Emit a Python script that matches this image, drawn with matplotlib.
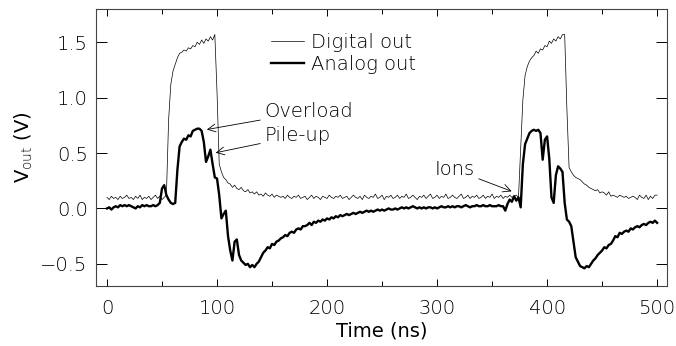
import matplotlib
matplotlib.use("Agg")
import matplotlib.pyplot as plt
import numpy as np

# time axis, 2 ns sampling
time_ns = np.arange(0, 501, 2)

# Digital output (V)
digital_out = [
  0.10, 0.08, 0.11, 0.09, 0.10, 0.08, 0.11, 0.09, 0.10, 0.12,
  0.09, 0.10, 0.08, 0.11, 0.09, 0.12, 0.08, 0.10, 0.09, 0.11,
  0.08, 0.10, 0.12, 0.09, 0.11, 0.08, 0.10, 0.12, 0.80, 1.12,
  1.24, 1.30, 1.36, 1.40, 1.41, 1.43, 1.42, 1.45, 1.44, 1.47,
  1.46, 1.50, 1.48, 1.52, 1.49, 1.53, 1.51, 1.55, 1.52, 1.57,
  1.05, 0.40, 0.33, 0.28, 0.26, 0.23, 0.22, 0.19, 0.21, 0.18,
  0.17, 0.19, 0.16, 0.15, 0.17, 0.14, 0.15, 0.13, 0.15, 0.12,
  0.13, 0.11, 0.14, 0.12, 0.11, 0.13, 0.10, 0.12, 0.11, 0.10,
  0.11, 0.09, 0.12, 0.10, 0.09, 0.11, 0.10, 0.12, 0.09, 0.10,
  0.11, 0.08, 0.10, 0.12, 0.09, 0.11, 0.10, 0.08, 0.11, 0.10,
  0.09, 0.12, 0.10, 0.09, 0.11, 0.10, 0.12, 0.09, 0.10, 0.11,
  0.08, 0.10, 0.12, 0.10, 0.09, 0.11, 0.08, 0.12, 0.10, 0.09,
  0.11, 0.10, 0.13, 0.09, 0.10, 0.12, 0.08, 0.11, 0.10, 0.12,
  0.09, 0.10, 0.12, 0.09, 0.11, 0.10, 0.13, 0.09, 0.10, 0.12,
  0.10, 0.08, 0.11, 0.10, 0.12, 0.09, 0.11, 0.13, 0.09, 0.10,
  0.12, 0.09, 0.11, 0.10, 0.13, 0.09, 0.10, 0.12, 0.10, 0.09,
  0.11, 0.13, 0.09, 0.10, 0.12, 0.09, 0.11, 0.10, 0.12, 0.09,
  0.10, 0.12, 0.09, 0.11, 0.10, 0.13, 0.09, 0.11, 0.10, 0.12,
  0.09, 0.11, 0.10, 0.12, 0.10, 0.11, 0.12, 0.10, 0.55, 0.98,
  1.20, 1.28, 1.33, 1.36, 1.38, 1.42, 1.40, 1.44, 1.43, 1.47,
  1.46, 1.51, 1.49, 1.53, 1.51, 1.55, 1.53, 1.57, 1.57, 0.90,
  0.37, 0.33, 0.30, 0.28, 0.27, 0.26, 0.24, 0.22, 0.21, 0.19,
  0.18, 0.17, 0.16, 0.17, 0.14, 0.15, 0.14, 0.12, 0.15, 0.11,
  0.12, 0.11, 0.10, 0.12, 0.11, 0.10, 0.11, 0.09, 0.10, 0.11,
  0.10, 0.08, 0.12, 0.10, 0.09, 0.12, 0.08, 0.11, 0.09, 0.12,
  0.12,
]

# Analog output (V)
analog_out = [
  0.00, 0.01, -0.01, 0.01, 0.02, 0.01, 0.03, 0.02, 0.03, 0.02,
  0.03, 0.02, 0.01, 0.00, 0.02, 0.01, 0.03, 0.02, 0.03, 0.02,
  0.02, 0.03, 0.02, 0.03, 0.05, 0.18, 0.21, 0.12, 0.08, 0.05,
  0.04, 0.05, 0.35, 0.56, 0.60, 0.63, 0.62, 0.66, 0.65, 0.70,
  0.71, 0.72, 0.72, 0.70, 0.60, 0.42, 0.47, 0.53, 0.40, 0.28,
  0.27, 0.12, -0.09, -0.05, -0.02, -0.25, -0.38, -0.47, -0.30, -0.28,
  -0.42, -0.47, -0.49, -0.51, -0.50, -0.53, -0.51, -0.53, -0.50, -0.48,
  -0.44, -0.40, -0.38, -0.35, -0.36, -0.32, -0.33, -0.30, -0.29, -0.27,
  -0.26, -0.24, -0.25, -0.22, -0.21, -0.22, -0.19, -0.18, -0.19, -0.16,
  -0.16, -0.15, -0.13, -0.15, -0.12, -0.13, -0.11, -0.12, -0.10, -0.11,
  -0.09, -0.10, -0.08, -0.09, -0.07, -0.08, -0.06, -0.07, -0.06, -0.05,
  -0.06, -0.05, -0.04, -0.05, -0.04, -0.03, -0.04, -0.03, -0.02, -0.03,
  -0.02, -0.03, -0.02, -0.01, -0.02, -0.01, -0.02, -0.01, 0.00, -0.01,
  -0.01, 0.00, -0.01, 0.00, 0.01, 0.00, 0.01, 0.00, 0.01, 0.02,
  0.01, 0.00, 0.01, 0.00, 0.01, 0.00, 0.01, 0.01, 0.00, 0.01,
  0.00, 0.01, 0.02, 0.01, 0.01, 0.02, 0.01, 0.02, 0.01, 0.02,
  0.02, 0.01, 0.02, 0.03, 0.02, 0.01, 0.02, 0.02, 0.03, 0.02,
  0.02, 0.03, 0.02, 0.02, 0.03, 0.02, 0.02, 0.02, 0.03, 0.02,
  0.02, -0.02, 0.04, 0.08, 0.06, 0.11, 0.07, 0.10, 0.01, 0.40,
  0.58, 0.63, 0.68, 0.70, 0.71, 0.70, 0.71, 0.68, 0.44, 0.62,
  0.65, 0.45, 0.10, 0.05, 0.30, 0.38, 0.36, 0.33, 0.05, -0.10,
  -0.12, -0.16, -0.30, -0.44, -0.48, -0.52, -0.53, -0.54, -0.52, -0.53,
  -0.50, -0.47, -0.45, -0.42, -0.40, -0.38, -0.35, -0.36, -0.33, -0.32,
  -0.29, -0.25, -0.26, -0.22, -0.23, -0.21, -0.20, -0.21, -0.18, -0.19,
  -0.17, -0.16, -0.17, -0.15, -0.14, -0.15, -0.13, -0.12, -0.13, -0.11,
  -0.13,
]

x_ticks = [0, 100, 200, 300, 400, 500]
y_ticks = [-0.5, 0.0, 0.5, 1.0, 1.5]

plt.rcParams['font.family'] = ['DejaVu Sans']
plt.rcParams['font.weight'] = 'light'
FS = 14

fig = plt.figure(figsize=(6.76, 3.46), dpi=100)
ax = fig.add_axes([96 / 676, 60 / 346, 571 / 676, 277 / 346])

ax.plot(time_ns, digital_out, color='black', lw=0.5, label='Digital out')
ax.plot(time_ns, analog_out, color='black', lw=1.7, label='Analog out')

ax.set_xlim(-10, 509)
ax.set_ylim(-0.7, 1.8)
ax.set_xticks(x_ticks)
ax.set_xticks(np.arange(0, 501, 50), minor=True)
ax.set_yticks(y_ticks)
ax.set_yticklabels(['−0.5', '0.0', '0.5', '1.0', '1.5'])
ax.tick_params(axis='x', which='major', direction='in', top=True, length=5, width=0.7, pad=9, labelsize=FS)
ax.tick_params(axis='x', which='minor', direction='in', top=True, length=3.5, width=0.7)
ax.tick_params(axis='y', direction='in', right=True, length=8, width=0.7, pad=6, labelsize=FS)
for s in ax.spines.values():
  s.set_linewidth(0.8)
  s.set_color('#444444')

ax.set_xlabel('Time (ns)', fontsize=FS, labelpad=3)
ax.set_ylabel(r'V$_{\rm out}$ (V)', fontsize=FS, labelpad=4)

ax.legend(loc='upper left', bbox_to_anchor=(0.29, 0.95), frameon=False, fontsize=FS,
          handlelength=1.7, handletextpad=0.35, labelspacing=0.17, borderpad=0)

arrow = dict(arrowstyle='->', lw=0.6, color='black', shrinkA=1, shrinkB=1)
ax.annotate('Overload', xy=(89.5, 0.71), xytext=(143, 0.875), fontsize=FS, va='center', ha='left', arrowprops=arrow)
ax.annotate('Pile-up', xy=(97.5, 0.50), xytext=(143, 0.655), fontsize=FS, va='center', ha='left', arrowprops=arrow)
ax.annotate('Ions', xy=(369, 0.15), xytext=(316, 0.35), fontsize=FS, va='center', ha='center', arrowprops=arrow)

fig.savefig('out.png', dpi=100)
